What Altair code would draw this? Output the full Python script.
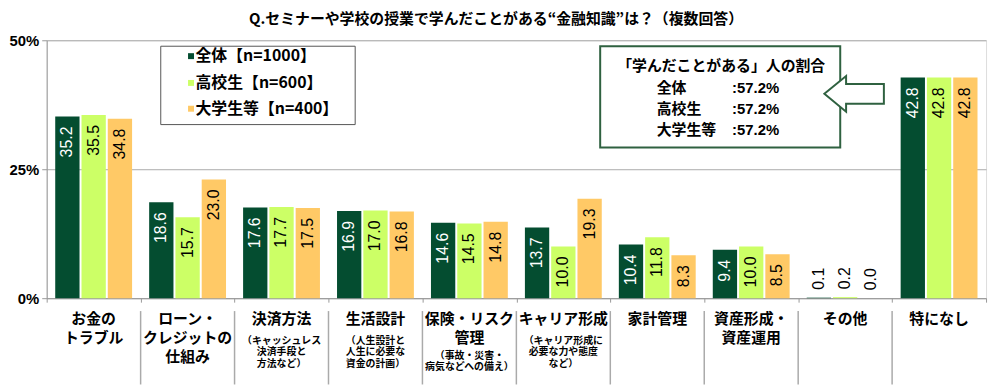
import altair as alt
import pandas as pd

categories = ["お金のトラブル", "ローン・クレジットの仕組み", "決済方法", "生活設計", "保険・リスク管理",
              "キャリア形成", "家計管理", "資産形成・資産運用", "その他", "特になし"]
main_labels = ["お金の\nトラブル", "ローン・\nクレジットの\n仕組み", "決済方法", "生活設計", "保険・リスク\n管理",
               "キャリア形成", "家計管理", "資産形成・\n資産運用", "その他", "特になし"]
sub_labels = ["", "", "（キャッシュレス\n決済手段と\n方法など）", "（人生設計と\n人生に必要な\n資金の計画）",
              "（事故・災害・\n病気などへの備え）", "（キャリア形成に\n必要な力や態度\nなど）", "", "", "", ""]
main_line_counts = [2, 3, 1, 1, 2, 1, 1, 2, 1, 1]

group_keys = ["全体", "高校生", "大学生等"]
legend_labels = ["全体【n=1000】", "高校生【n=600】", "大学生等【n=400】"]
colors = ["#044d30", "#ccff66", "#ffc966"]

v_all = [35.2, 18.6, 17.6, 16.9, 14.6, 13.7, 10.4, 9.4, 0.1, 42.8]
v_hs = [35.5, 15.7, 17.7, 17.0, 14.5, 10.0, 11.8, 10.0, 0.2, 42.8]
v_univ = [34.8, 23.0, 17.5, 16.8, 14.8, 19.3, 8.3, 8.5, 0.0, 42.8]

summary_title = "「学んだことがある」人の割合"
summary_names = ["全体", "高校生", "大学生等"]
summary_values = [57.2, 57.2, 57.2]

title_text = "Q.セミナーや学校の授業で学んだことがある“金融知識”は？（複数回答）"
y_ticks = [0, 25, 50]

JP = "Noto Sans CJK JP"
NUM = "Liberation Sans"
W, H = 947, 260
GREEN = "#2f6140"

rows = []
for g, vals in zip(group_keys, [v_all, v_hs, v_univ]):
    for c, v in zip(categories, vals):
        rows.append({"cat": c, "group": g, "value": v})
df = pd.DataFrame(rows)

x_enc = alt.X("cat:N", sort=categories,
              scale=alt.Scale(domain=categories, paddingInner=0, paddingOuter=0),
              axis=alt.Axis(labels=False, title=None, ticks=True, tickBand="extent", tickSize=4,
                            tickColor="#999", domainColor="#999", grid=False))
xo_enc = alt.XOffset("group:N", sort=group_keys,
                     scale=alt.Scale(domain=group_keys, paddingInner=0.075, paddingOuter=0.325))
y_enc = alt.Y("value:Q", scale=alt.Scale(domain=[0, 50], nice=False),
              axis=alt.Axis(values=y_ticks, labelExpr="datum.value + '%'", title=None, grid=True,
                            gridColor="#aaa", tickSize=5, tickColor="#999", domainColor="#999",
                            labelFont=NUM, labelFontSize=15, labelFontWeight="bold",
                            labelColor="#000", labelPadding=3))

base = alt.Chart(df)
bars = base.mark_bar().encode(
    x=x_enc, xOffset=xo_enc, y=y_enc,
    color=alt.Color("group:N", scale=alt.Scale(domain=group_keys, range=colors), legend=None),
)
big_labels = base.transform_filter("datum.value >= 5").mark_text(
    angle=270, align="right", baseline="middle", dx=-10, font=NUM, fontSize=16
).encode(
    x=x_enc, xOffset=xo_enc, y=y_enc,
    text=alt.Text("value:Q", format=".1f"),
    color=alt.condition(alt.datum.group == "全体", alt.value("white"), alt.value("black")),
)
small_labels = base.transform_filter("datum.value < 5").mark_text(
    angle=270, align="left", baseline="middle", dx=8, font=NUM, fontSize=16, color="black"
).encode(
    x=x_enc, xOffset=xo_enc, y=y_enc,
    text=alt.Text("value:Q", format=".1f"),
)

lab_df = pd.DataFrame({"cat": categories, "main": main_labels, "sub": sub_labels,
                       "n": main_line_counts})
main_text = alt.Chart(lab_df).mark_text(
    baseline="top", align="center", font=JP, fontSize=15, fontWeight="bold",
    lineHeight=19, lineBreak="\n", color="black"
).encode(x=x_enc, y=alt.value(H + 14), text="main:N")
sub_text1 = alt.Chart(lab_df).transform_filter("datum.sub != '' && datum.n == 1").mark_text(
    baseline="top", align="center", font=JP, fontSize=10, fontWeight="bold",
    lineHeight=11.5, lineBreak="\n", color="black"
).encode(x=x_enc, y=alt.value(H + 38), text="sub:N")
sub_text2 = alt.Chart(lab_df).transform_filter("datum.sub != '' && datum.n == 2").mark_text(
    baseline="top", align="center", font=JP, fontSize=10, fontWeight="bold",
    lineHeight=11.5, lineBreak="\n", color="black"
).encode(x=x_enc, y=alt.value(H + 53), text="sub:N")

sep_df = pd.DataFrame({"cat": categories[1:]})
seps = alt.Chart(sep_df).mark_rule(color="#aaa", strokeWidth=1.5).encode(
    x=alt.X("cat:N", sort=categories, bandPosition=0,
            scale=alt.Scale(domain=categories, paddingInner=0, paddingOuter=0)),
    y=alt.value(H + 13), y2=alt.value(H + 87),
)

one = pd.DataFrame({"a": [0]})
title_mark = alt.Chart(one).mark_text(
    font=JP, fontSize=15, fontWeight="bold", baseline="middle", align="center", color="black"
).encode(x=alt.value(453), y=alt.value(-21), text=alt.value(title_text))

legend_box = alt.Chart(one).mark_rect(fill="white", stroke="#555", strokeWidth=1).encode(
    x=alt.value(115), x2=alt.value(311), y=alt.value(6), y2=alt.value(85))
legend_layers = [legend_box]
legend_ys = [16, 43, 69]
for lab, col, yy in zip(legend_labels, colors, legend_ys):
    legend_layers.append(alt.Chart(one).mark_square(size=36, color=col, opacity=1).encode(
        x=alt.value(145.5), y=alt.value(yy)))
    legend_layers.append(alt.Chart(one).mark_text(
        font=JP, fontSize=16, fontWeight="bold", align="left", baseline="middle", color="black"
    ).encode(x=alt.value(150), y=alt.value(yy), text=alt.value(lab)))

ann_box = alt.Chart(one).mark_rect(fill="white", stroke=GREEN, strokeWidth=2).encode(
    x=alt.value(558), x2=alt.value(800), y=alt.value(6), y2=alt.value(108))
ann_layers = [ann_box]
ann_layers.append(alt.Chart(one).mark_text(
    font=JP, fontSize=15, fontWeight="bold", align="center", baseline="middle", color="black"
).encode(x=alt.value(680), y=alt.value(26), text=alt.value(summary_title)))
for nm, val, yy in zip(summary_names, summary_values, [48, 69, 90]):
    ann_layers.append(alt.Chart(one).mark_text(
        font=JP, fontSize=15, fontWeight="bold", align="left", baseline="middle", color="black"
    ).encode(x=alt.value(615), y=alt.value(yy), text=alt.value(nm)))
    ann_layers.append(alt.Chart(one).mark_text(
        font=NUM, fontSize=15, fontWeight="bold", align="left", baseline="middle", color="black"
    ).encode(x=alt.value(691), y=alt.value(yy), text=alt.value(":%.1f%%" % val)))

arrow_path = "M -1 0 L -0.27 -0.6 L -0.27 -0.33 L 1 -0.33 L 1 0.33 L -0.27 0.33 L -0.27 0.6 Z"
arrow = alt.Chart(one).mark_point(
    shape=arrow_path, size=3600, filled=True, fill="white", stroke=GREEN, strokeWidth=2, opacity=1
).encode(x=alt.value(814), y=alt.value(54))

chart = alt.layer(
    bars, big_labels, small_labels, seps, main_text, sub_text1, sub_text2, title_mark,
    *legend_layers, *ann_layers, arrow
).properties(
    width=W, height=H,
    autosize=alt.AutoSizeParams(type="none"),
    padding={"left": 39, "top": 31, "right": 6, "bottom": 87},
).configure_view(stroke="#999", strokeWidth=1).configure(background="white")

chart.save("out.html", embed_options={"renderer": "svg", "actions": False})
